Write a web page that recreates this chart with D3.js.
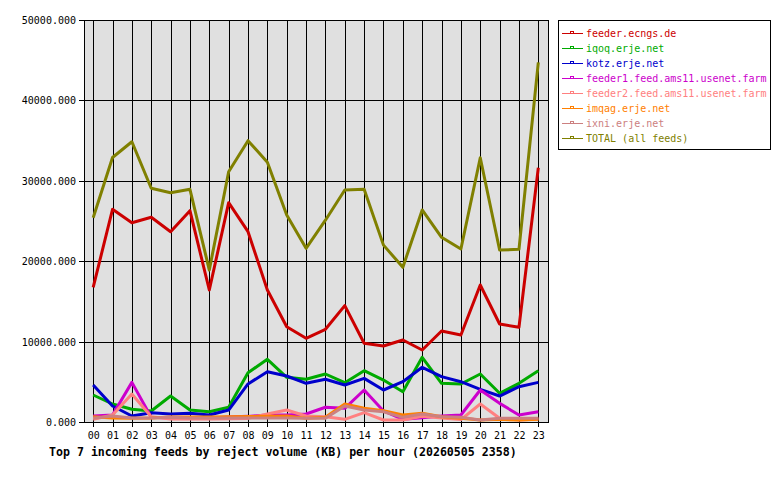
<!DOCTYPE html>
<html>
<head>
<meta charset="utf-8">
<script src="https://cdn.jsdelivr.net/npm/d3@7"></script>
<style>
  body { margin: 0; background: #fff; }
  text { font-family: "DejaVu Sans Mono", monospace; font-size: 10px; }
</style>
</head>
<body>
<div id="chart"></div>
<script>
// hours on the x axis
var hours = ["00","01","02","03","04","05","06","07","08","09","10","11",
             "12","13","14","15","16","17","18","19","20","21","22","23"];

// y tick values
var yTicks = [0, 10000, 20000, 30000, 40000, 50000];

// feed names and colours (legend order)
var feedNames  = ["feeder.ecngs.de", "iqoq.erje.net", "kotz.erje.net",
                  "feeder1.feed.ams11.usenet.farm", "feeder2.feed.ams11.usenet.farm",
                  "imqag.erje.net", "ixni.erje.net", "TOTAL (all feeds)"];
var feedColors = ["#cc0000", "#00aa00", "#0000cc", "#cc00cc", "#ff8080",
                  "#ff8000", "#cc8080", "#808000"];

// reject volume (KB) per hour, one array per feed
var ecngs = [16750, 26450, 24790, 25460, 23670, 26280, 16420, 27280, 23670, 16420, 11850, 10410,
             11530, 14470, 9790, 9450, 10200, 8955, 11320, 10820, 17040, 12190, 11780, 31630];
var iqoq  = [3360, 2240, 1580, 1370, 3230, 1490, 1280, 1830, 6130, 7800, 5560, 5310,
             5970, 4890, 6380, 5220, 3770, 8040, 4810, 4730, 5970, 3570, 4810, 6380];
var kotz  = [4600, 1990, 750, 1160, 1000, 1080, 870, 1490, 4730, 6260, 5720, 4810,
             5310, 4600, 5430, 3980, 5010, 6800, 5640, 5010, 4060, 3230, 4390, 4930];
var feeder1 = [750, 870, 4930, 580, 500, 500, 500, 620, 700, 870, 870, 1000,
               1830, 1700, 3980, 1370, 330, 540, 750, 870, 3980, 2320, 870, 1280];
var feeder2 = [330, 870, 3480, 660, 370, 370, 370, 400, 450, 1000, 1490, 750,
               660, 330, 1160, 250, 250, 700, 500, 300, 2240, 460, 250, 370];
var imqag = [660, 500, 460, 500, 620, 620, 620, 650, 680, 700, 750, 460,
             580, 2240, 1700, 1410, 870, 1080, 660, 460, 250, 330, 250, 330];
var ixni  = [460, 750, 500, 500, 580, 500, 500, 500, 500, 500, 500, 460,
             460, 1990, 1490, 1280, 580, 1000, 660, 580, 250, 460, 460, 460];
var total = [25410, 32900, 34860, 29070, 28520, 28940, 18900, 31130, 34990, 32300, 25750, 21600,
             25100, 28850, 28940, 22000, 19240, 26370, 22970, 21520, 32870, 21390, 21480, 44740];

var series = [ecngs, iqoq, kotz, feeder1, feeder2, imqag, ixni, total];

var svg = d3.select("#chart").append("svg")
  .attr("width", 780)
  .attr("height", 480);

var plot = {left: 84, top: 20, right: 548, bottom: 422};

var x = d3.scaleLinear()
  .domain([-0.5, 23.5])
  .range([plot.left - 0.5, plot.right]);

var y = d3.scaleLinear()
  .domain([0, 50000])
  .range([plot.bottom, plot.top]);

// plot background
svg.append("rect")
  .attr("x", plot.left)
  .attr("y", plot.top)
  .attr("width", plot.right - plot.left)
  .attr("height", plot.bottom - plot.top)
  .attr("fill", "#e0e0e0");

// vertical grid
svg.append("g").selectAll("line")
  .data(hours)
  .enter().append("line")
  .attr("x1", function(d, i){ return Math.round(x(i)) + 0.5; })
  .attr("x2", function(d, i){ return Math.round(x(i)) + 0.5; })
  .attr("y1", plot.top)
  .attr("y2", plot.bottom + 5)
  .attr("stroke", "#000");

// horizontal grid
svg.append("g").selectAll("line")
  .data(yTicks)
  .enter().append("line")
  .attr("x1", plot.left - 5)
  .attr("x2", plot.right)
  .attr("y1", function(d){ return Math.round(y(d)) + 0.5; })
  .attr("y2", function(d){ return Math.round(y(d)) + 0.5; })
  .attr("stroke", "#000");

// frame
svg.append("rect")
  .attr("x", plot.left + 0.5)
  .attr("y", plot.top + 0.5)
  .attr("width", plot.right - plot.left)
  .attr("height", plot.bottom - plot.top)
  .attr("fill", "none")
  .attr("stroke", "#000");

// y labels
svg.append("g").selectAll("text")
  .data(yTicks)
  .enter().append("text")
  .attr("x", 76)
  .attr("y", function(d){ return y(d) + 4; })
  .attr("text-anchor", "end")
  .text(function(d){ return d3.format(".3f")(d); });

// x labels
svg.append("g").selectAll("text")
  .data(hours)
  .enter().append("text")
  .attr("x", function(d, i){ return x(i) + 0.5; })
  .attr("y", 439)
  .attr("text-anchor", "middle")
  .text(function(d){ return d; });

// lines
var line = d3.line()
  .x(function(d, i){ return x(i); })
  .y(function(d){ return y(d); });

svg.append("g").selectAll("path")
  .data(series)
  .enter().append("path")
  .attr("d", line)
  .attr("fill", "none")
  .attr("stroke", function(d, i){ return feedColors[i]; })
  .attr("stroke-width", 3)
  .attr("stroke-linejoin", "round");

// title
svg.append("text")
  .attr("x", 49)
  .attr("y", 456)
  .style("font-size", "11.6px")
  .style("font-weight", "bold")
  .text("Top 7 incoming feeds by reject volume (KB) per hour (20260505 2358)");

// legend
var legend = svg.append("g");
legend.append("rect")
  .attr("x", 558.5)
  .attr("y", 20.5)
  .attr("width", 212)
  .attr("height", 129)
  .attr("fill", "#fff")
  .attr("stroke", "#000");

var item = legend.selectAll("g.item")
  .data(feedNames)
  .enter().append("g")
  .attr("class", "item")
  .attr("transform", function(d, i){ return "translate(0," + (33 + i * 15) + ")"; });

item.append("line")
  .attr("x1", 562)
  .attr("x2", 583)
  .attr("y1", 0.5)
  .attr("y2", 0.5)
  .attr("stroke", function(d, i){ return feedColors[i]; });

item.append("rect")
  .attr("x", 570.5)
  .attr("y", -1.5)
  .attr("width", 3)
  .attr("height", 2)
  .attr("fill", "none")
  .attr("stroke", function(d, i){ return feedColors[i]; });

item.append("text")
  .attr("x", 586)
  .attr("y", 4)
  .attr("fill", function(d, i){ return feedColors[i]; })
  .text(function(d){ return d; });
</script>
</body>
</html>
